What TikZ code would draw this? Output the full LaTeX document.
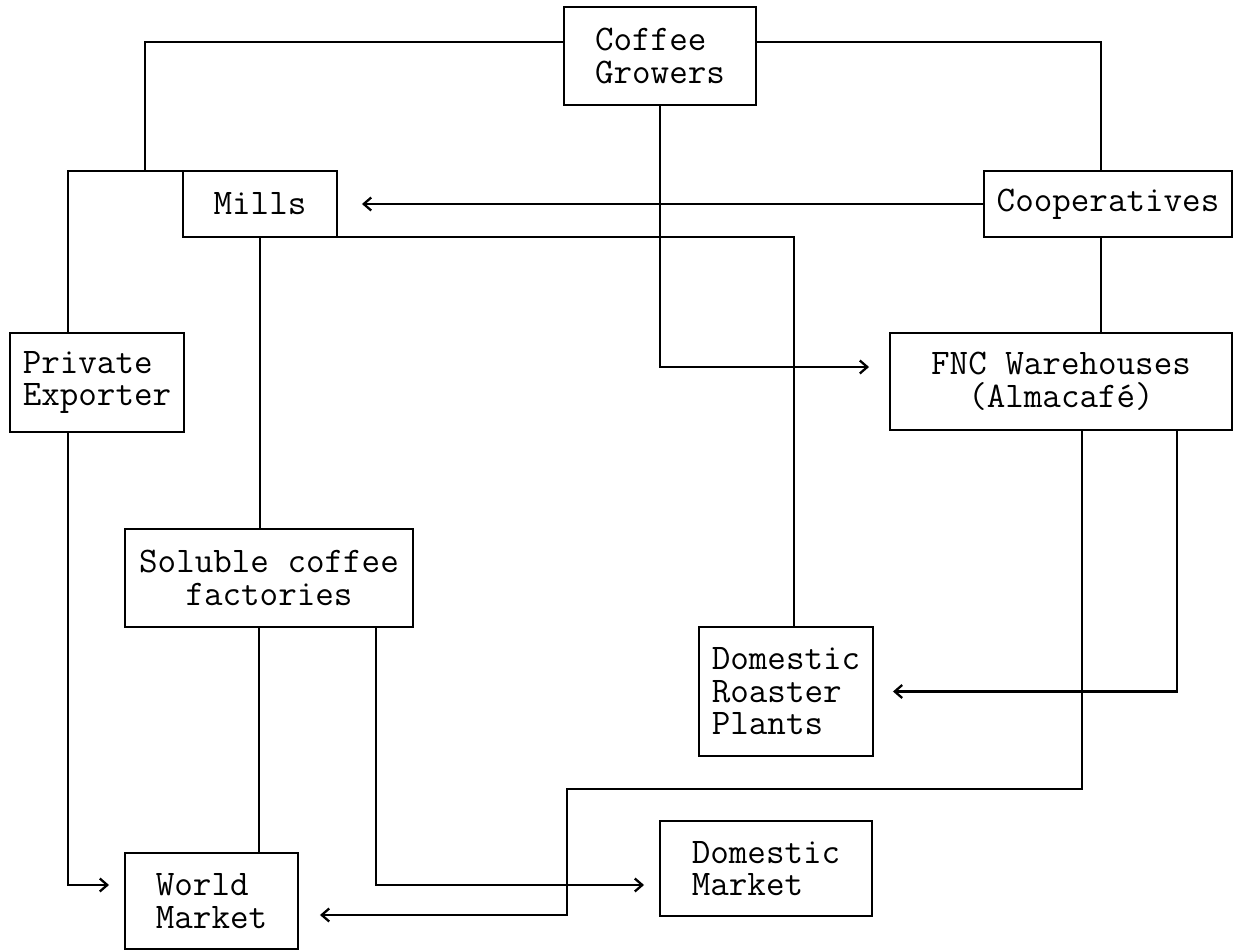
\documentclass[tikz,border=0pt]{standalone}
\usepackage{fontspec}
\usepackage{tikz}
\usetikzlibrary{arrows.meta}

\begin{document}
\begin{tikzpicture}[
    x=0.02cm, y=-0.02cm,
    box/.style={draw, line width=1.3pt, inner sep=0pt, outer sep=0pt,
                align=left, font=\ttfamily\fontsize{20.5}{18.5}\selectfont},
    line/.style={line width=1.3pt},
    flow/.style={line width=1.3pt, -{Straight Barb[length=0.15cm, width=0.26cm]},
                 shorten >=0.32cm},
    backflow/.style={flow, -{Straight Barb[length=0.15cm, width=0.26cm, sep=0.12cm]}},
  ]
    \useasboundingbox (0,0) rectangle (1235,950);

    % Growers and first buyers
    \node[box, minimum width=3.84cm, minimum height=1.96cm] (growers) at (660,56)
          {Coffee\\Growers};
    \node[box, minimum width=3.08cm, minimum height=1.32cm] (mills) at (260,204) {Mills};
    \node[box, minimum width=4.96cm, minimum height=1.32cm] (coop) at (1108,204)
          {Cooperatives};

    % Exporters and warehouses
    \node[box, minimum width=3.48cm, minimum height=1.98cm] (exporter) at (97,382.5)
          {Private\\Exporter};
    \node[box, align=center, minimum width=6.84cm, minimum height=1.94cm] (fnc) at (1061,381.5)
          {FNC Warehouses\\(Almacafé)};

    % Processing
    \node[box, align=center, minimum width=5.76cm, minimum height=1.96cm] (soluble) at (269,578)
          {Soluble coffee\\factories};
    \node[box, minimum width=3.48cm, minimum height=2.58cm] (roaster) at (786,691.5)
          {Domestic\\Roaster\\Plants};

    % Markets
    \node[box, minimum width=3.46cm, minimum height=1.92cm] (world) at (211.5,901)
          {World\\Market};
    \node[box, minimum width=4.24cm, minimum height=1.90cm] (dommarket) at (766,868.5)
          {Domestic\\Market};

    \coordinate (split) at (145,171);
    \coordinate (turn) at (567,789);

    % Connectors
    \draw[line] ([yshift=0.28cm]growers.west) -| (split);
    \draw[line] (mills.north west) -| ([xshift=-0.58cm]exporter.north);
    \draw[line] ([yshift=0.28cm]growers.east) -| ([xshift=-0.14cm]coop.north);
    \draw[backflow, shorten >=0.38cm] (coop.west) -- (mills.east);
    \draw[line] ([xshift=-0.14cm]coop.south) -- ([xshift=-0.14cm]coop.south |- fnc.north);
    \draw[flow, shorten >=0.42cm] (growers.south) |- ([yshift=0.29cm]fnc.west);
    \draw[line] (mills.south east) -| ([xshift=0.16cm]roaster.north);
    \draw[line] (mills.south) -- (mills.south |- soluble.north);
    \draw[flow] ([xshift=-0.58cm]exporter.south) |- ([yshift=0.32cm]world.west);
    \draw[line] ([xshift=-0.2cm]soluble.south) -- ([xshift=-0.2cm]soluble.south |- world.north);
    \draw[flow] ([xshift=2.14cm]soluble.south) |- ([yshift=-0.33cm]dommarket.west);
    \draw[backflow] ([xshift=0.42cm]fnc.south) |- (turn) |- ([yshift=-0.28cm]world.east);
    \draw[backflow, shorten >=0.28cm] ([xshift=2.32cm]fnc.south) |- (roaster.east);
\end{tikzpicture}
\end{document}
